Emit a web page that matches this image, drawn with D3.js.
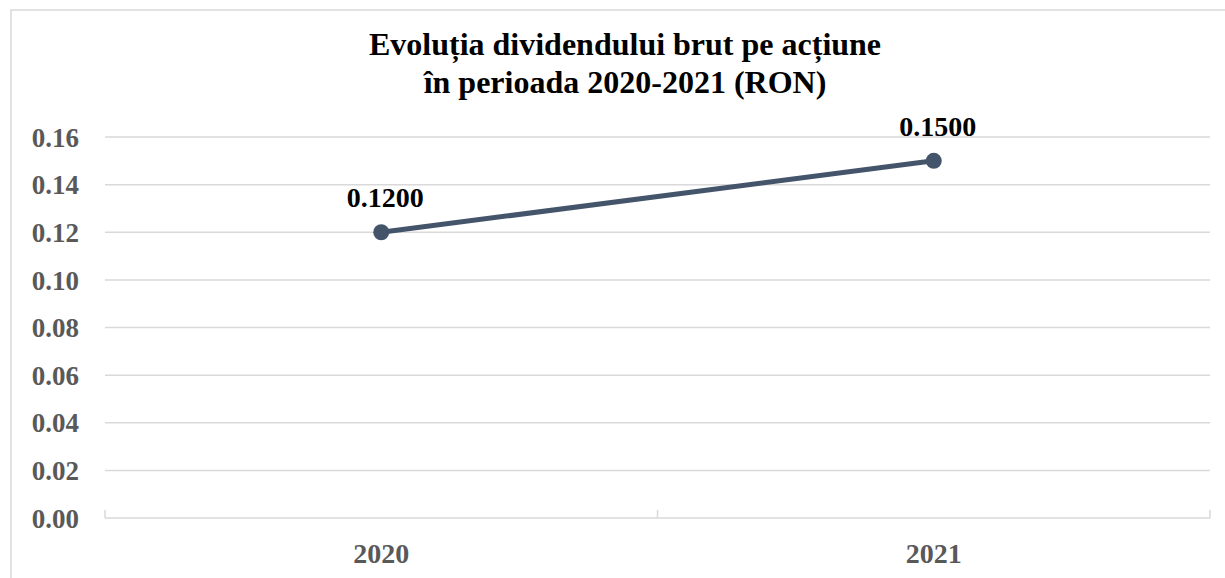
<!DOCTYPE html>
<html>
<head>
<meta charset="utf-8">
<script src="https://cdn.jsdelivr.net/npm/d3@7"></script>
<style>
  body { margin: 0; background: #fff; }
  svg { display: block; }
  svg text { font-family: "Liberation Serif", "Times New Roman", serif !important; font-weight: bold; }
</style>
</head>
<body>
<svg id="chart"></svg>
<script>
const years = ['2020', '2021'];
const dividend = [0.12, 0.15];
const valueLabels = ['0.1200', '0.1500'];
const titleLines = ['Evoluția dividendului brut pe acțiune', 'în perioada 2020-2021 (RON)'];
const yTicks = [0, 0.02, 0.04, 0.06, 0.08, 0.10, 0.12, 0.14, 0.16];

const svgWidth = 1225, svgHeight = 578;
const margin = { top: 137, right: 15, bottom: 60, left: 105 };
const width = svgWidth - margin.left - margin.right;
const height = svgHeight - margin.top - margin.bottom;

const svg = d3.select('#chart').attr('width', svgWidth).attr('height', svgHeight);

// chart border (only left and top fit in the frame)
svg.append('rect')
    .attr('x', 11).attr('y', 10)
    .attr('width', 1240).attr('height', 600)
    .attr('fill', 'none')
    .attr('stroke', '#d9d9d9')
    .attr('stroke-width', 1.5);

const title = svg.append('text')
    .attr('text-anchor', 'middle')
    .attr('font-size', 32)
    .attr('fill', '#000');
title.selectAll('tspan').data(titleLines).enter().append('tspan')
    .attr('x', 625)
    .attr('y', (d, i) => 55 + i * 38)
    .text(d => d);

const g = svg.append('g').attr('transform', 'translate(' + margin.left + ',' + margin.top + ')');

const xScale = d3.scaleBand().domain(years).range([0, width]);
const yScale = d3.scaleLinear().domain([0, 0.16]).range([height, 0]);

// gridlines
g.append('g').attr('id', 'grid')
    .selectAll('line').data(yTicks.slice(1)).enter().append('line')
    .attr('x1', 0).attr('x2', width)
    .attr('y1', d => yScale(d)).attr('y2', d => yScale(d))
    .attr('stroke', '#d9d9d9')
    .attr('stroke-width', 1.5);

// y axis labels
const yAxis = d3.axisLeft(yScale).tickValues(yTicks).tickSize(0).tickPadding(26)
    .tickFormat(d3.format('.2f'));
g.append('g').attr('id', 'yAxisG')
    .call(yAxis)
    .call(a => {
        a.select('.domain').remove();
        a.selectAll('.tick text')
            .attr('font-size', 27)
            .attr('dy', '0.34em')
            .attr('fill', '#595959');
    });

// x axis: category boundary ticks
const boundaries = [0, xScale.bandwidth(), width];
const xAxisG = g.append('g').attr('id', 'xAxisG').attr('transform', 'translate(0,' + height + ')');
xAxisG.append('line')
    .attr('x1', 0).attr('x2', width).attr('y1', 0).attr('y2', 0)
    .attr('stroke', '#d9d9d9').attr('stroke-width', 1.5);
xAxisG.selectAll('.bound').data(boundaries).enter().append('line')
    .attr('class', 'bound')
    .attr('x1', d => d).attr('x2', d => d)
    .attr('y1', 0).attr('y2', -8)
    .attr('stroke', '#d9d9d9').attr('stroke-width', 1.5);
xAxisG.selectAll('.xlabel').data(years).enter().append('text')
    .attr('class', 'xlabel')
    .attr('x', d => xScale(d) + xScale.bandwidth() / 2)
    .attr('y', 45)
    .attr('text-anchor', 'middle')
    .attr('font-size', 28)
    .attr('fill', '#595959')
    .text(d => d);

// line series
const pts = years.map((y, i) => ({ year: y, value: dividend[i], label: valueLabels[i] }));
const line = d3.line()
    .x(d => xScale(d.year) + xScale.bandwidth() / 2)
    .y(d => yScale(d.value));

g.append('path').datum(pts)
    .attr('d', line)
    .attr('fill', 'none')
    .attr('stroke', '#44546a')
    .attr('stroke-width', 5)
    .attr('stroke-linecap', 'round');

g.selectAll('.dot').data(pts).enter().append('circle')
    .attr('class', 'dot')
    .attr('cx', d => xScale(d.year) + xScale.bandwidth() / 2)
    .attr('cy', d => yScale(d.value))
    .attr('r', 8)
    .attr('fill', '#44546a');

g.selectAll('.vlabel').data(pts).enter().append('text')
    .attr('class', 'vlabel')
    .attr('x', d => xScale(d.year) + xScale.bandwidth() / 2 + 4)
    .attr('y', d => yScale(d.value) - 25)
    .attr('text-anchor', 'middle')
    .attr('font-size', 28)
    .attr('fill', '#000')
    .text(d => d.label);
</script>
</body>
</html>
